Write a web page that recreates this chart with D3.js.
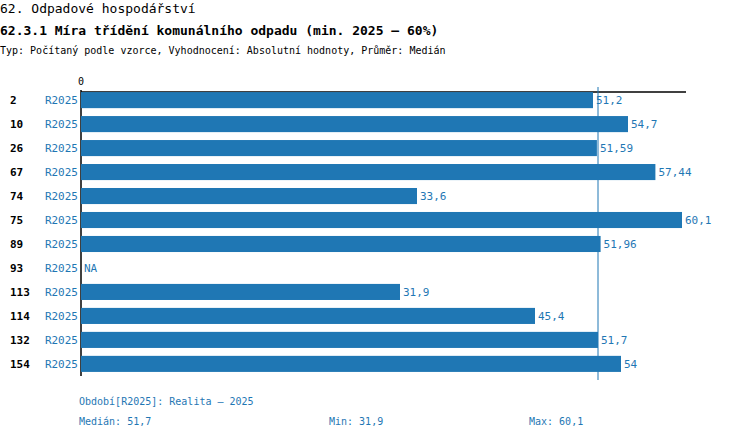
<!DOCTYPE html>
<html><head><meta charset="utf-8">
<script src="https://cdn.jsdelivr.net/npm/d3@7"></script>
<style>body{margin:0;background:#fff}text{font-family:"DejaVu Sans Mono","Liberation Mono",monospace}</style>
</head><body><div id="chart"></div>
<script>
'use strict'
const ids = ['2', '10', '26', '67', '74', '75', '89', '93', '113', '114', '132', '154']
const periods = ids.map(() => 'R2025')
const values = [51.2, 54.7, 51.59, 57.44, 33.6, 60.1, 51.96, null, 31.9, 45.4, 51.7, 54]
const median = 51.7
const blue = '#1f77b4'

const data = ids.map((id, i) => ({ id, period: periods[i], value: values[i] }))
const svg = d3.select('#chart').append('svg').attr('width', 750).attr('height', 440)
const x = d3.scaleLinear().domain([0, 60.5]).range([81, 686])
const y = d3.scaleBand().domain(ids).range([88, 376]).paddingInner(0.33).paddingOuter(0.17)
const fmt = v => String(v).replace('.', ',')
const mid = d => y(d.id) + y.bandwidth() / 2 + 4

svg.append('text').attr('x', 0).attr('y', 13).style('font-size', '13px').text('62. Odpadové hospodářství')
svg.append('text').attr('x', 0).attr('y', 35).style('font-size', '13px').style('font-weight', 'bold').text('62.3.1 Míra třídění komunálního odpadu (min. 2025 – 60%)')
svg.append('text').attr('x', 0).attr('y', 54).style('font-size', '10px').text('Typ: Počítaný podle vzorce, Vyhodnocení: Absolutní hodnoty, Průměr: Medián')

svg.append('text').attr('x', x(0)).attr('y', 85).attr('text-anchor', 'middle').style('font-size', '10px').text('0')
svg.append('line').attr('x1', x(0)).attr('x2', x(60.5)).attr('y1', 92).attr('y2', 92).attr('stroke', '#000').attr('stroke-width', 1.5)
svg.append('line').attr('x1', x(0)).attr('x2', x(0)).attr('y1', 90).attr('y2', 376).attr('stroke', '#000').attr('stroke-width', 1.5)

svg.append('line').attr('x1', x(median)).attr('x2', x(median)).attr('y1', 87).attr('y2', 380).attr('stroke', blue).attr('stroke-width', 1)

const rows = svg.selectAll('g.row').data(data).join('g').attr('class', 'row')
rows.append('text').attr('x', 10).attr('y', mid).style('font-size', '11px').style('font-weight', 'bold').text(d => d.id)
rows.append('text').attr('x', 78).attr('y', mid).attr('text-anchor', 'end').attr('fill', blue).style('font-size', '11px').text(d => d.period)
rows.filter(d => d.value !== null).append('rect')
  .attr('x', x(0)).attr('y', d => y(d.id)).attr('height', y.bandwidth())
  .attr('width', d => x(d.value) - x(0)).attr('fill', blue)
rows.append('text').attr('x', d => x(d.value || 0) + 3).attr('y', mid)
  .attr('fill', blue).style('font-size', '11px').text(d => d.value === null ? 'NA' : fmt(d.value))

const foot = [['Období[R2025]: Realita – 2025', 79, 405], ['Medián: 51,7', 79, 425], ['Min: 31,9', 329, 425], ['Max: 60,1', 529, 425]]
svg.selectAll('text.foot').data(foot).join('text').attr('class', 'foot')
  .attr('x', d => d[1]).attr('y', d => d[2]).attr('fill', blue).style('font-size', '10px').text(d => d[0])
</script></body></html>
